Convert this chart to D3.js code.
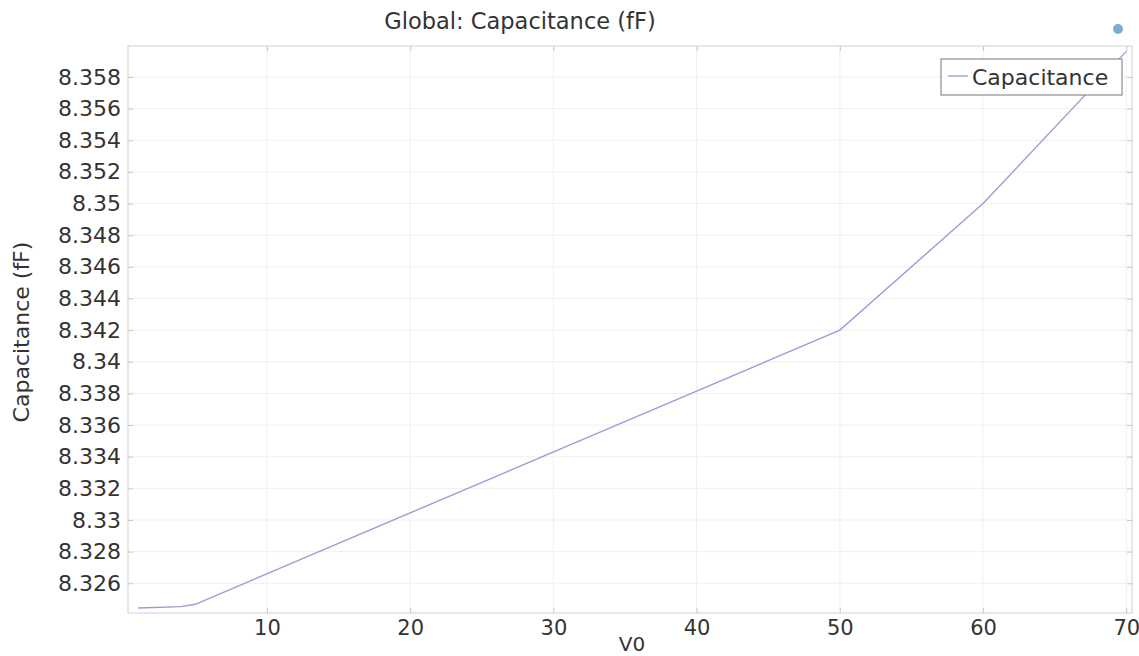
<!DOCTYPE html>
<html>
<head>
<meta charset="utf-8">
<script src="https://cdn.jsdelivr.net/npm/d3@7"></script>
<style>
  body { margin: 0; background: #fff; }
  svg { display: block; font-family: "DejaVu Sans", sans-serif; }
</style>
</head>
<body>
<div id="chart"></div>
<script>
// values
const v0 = [1, 4, 5, 50, 60, 70];
const capacitance = [8.32444, 8.32452, 8.32467, 8.342, 8.35, 8.35962];
const xTicks = [10, 20, 30, 40, 50, 60, 70];
const yTicks = [8.326, 8.328, 8.33, 8.332, 8.334, 8.336, 8.338, 8.34, 8.342,
  8.344, 8.346, 8.348, 8.35, 8.352, 8.354, 8.356, 8.358];

const W = 1139, H = 656;
const margin = { top: 46, right: 7, bottom: 43, left: 128 };
const width = W - margin.left - margin.right;
const height = H - margin.top - margin.bottom;

const svg = d3.select("#chart").append("svg")
  .attr("width", W)
  .attr("height", H);

const x = d3.scaleLinear().domain([0.3, 70.4]).range([0, width]);
const y = d3.scaleLinear().domain([8.32412, 8.35996]).range([height, 0]);

const g = svg.append("g").attr("transform", `translate(${margin.left}, ${margin.top})`);

// grid
g.selectAll(".hgrid").data(yTicks).enter().append("line")
  .attr("x1", 0).attr("x2", width)
  .attr("y1", (d) => y(d)).attr("y2", (d) => y(d))
  .attr("stroke", "#f0f0f0");
g.selectAll(".vgrid").data(xTicks).enter().append("line")
  .attr("y1", 0).attr("y2", height)
  .attr("x1", (d) => x(d)).attr("x2", (d) => x(d))
  .attr("stroke", "#f0f0f0");

// frame
g.append("rect")
  .attr("width", width).attr("height", height)
  .attr("fill", "none").attr("stroke", "#d0d0d0");

// axes, ticks pointing inward
const fmt = (d) => d3.format("")(+d.toFixed(3));
const yAxis = g.append("g").call(
  d3.axisLeft(y).tickValues(yTicks).tickSizeInner(-5).tickSizeOuter(0).tickPadding(7).tickFormat(fmt)
);
const xAxis = g.append("g").attr("transform", `translate(0, ${height})`).call(
  d3.axisBottom(x).tickValues(xTicks).tickSizeInner(-5).tickSizeOuter(0).tickPadding(7)
);
g.append("g").attr("transform", `translate(${width}, 0)`).call(
  d3.axisRight(y).tickValues(yTicks).tickSizeInner(-5).tickSizeOuter(0).tickFormat("")
);
g.append("g").call(
  d3.axisTop(x).tickValues(xTicks).tickSizeInner(-5).tickSizeOuter(0).tickFormat("")
);
g.selectAll(".domain").remove();
g.selectAll(".tick line").attr("stroke", "#c8c8c8");
yAxis.selectAll("text").attr("font-size", 22).attr("fill", "#333").attr("font-family", "DejaVu Sans");
xAxis.selectAll("text").attr("font-size", 21).attr("fill", "#333").attr("font-family", "DejaVu Sans");

// line
const line = d3.line()
  .x((d, i) => x(v0[i]))
  .y((d) => y(d));
g.append("path")
  .datum(capacitance)
  .attr("fill", "none")
  .attr("stroke", "#9c9cd8")
  .attr("stroke-width", 1.4)
  .attr("d", line);

// title and labels
svg.append("text")
  .attr("x", 520).attr("y", 29)
  .attr("text-anchor", "middle")
  .attr("font-size", 22.5).attr("fill", "#333")
  .text("Global: Capacitance (fF)");

svg.append("text")
  .attr("x", 632).attr("y", 651)
  .attr("text-anchor", "middle")
  .attr("font-size", 20).attr("fill", "#333")
  .text("V0");

svg.append("text")
  .attr("transform", "translate(29, 332) rotate(-90)")
  .attr("text-anchor", "middle")
  .attr("font-size", 22).attr("fill", "#333")
  .text("Capacitance (fF)");

// legend
const legend = svg.append("g").attr("transform", "translate(941, 59)");
legend.append("rect")
  .attr("width", 181).attr("height", 36)
  .attr("fill", "#fff").attr("stroke", "#777");
legend.append("line")
  .attr("x1", 7).attr("x2", 27).attr("y1", 17).attr("y2", 17)
  .attr("stroke", "#9c9cd8").attr("stroke-width", 1.4);
legend.append("text")
  .attr("x", 31).attr("y", 26)
  .attr("font-size", 22).attr("fill", "#333")
  .text("Capacitance");

// faint logo in the corner
svg.append("circle")
  .attr("cx", 1118).attr("cy", 29).attr("r", 5)
  .attr("fill", "#5a9ac8").attr("opacity", 0.8);
</script>
</body>
</html>
